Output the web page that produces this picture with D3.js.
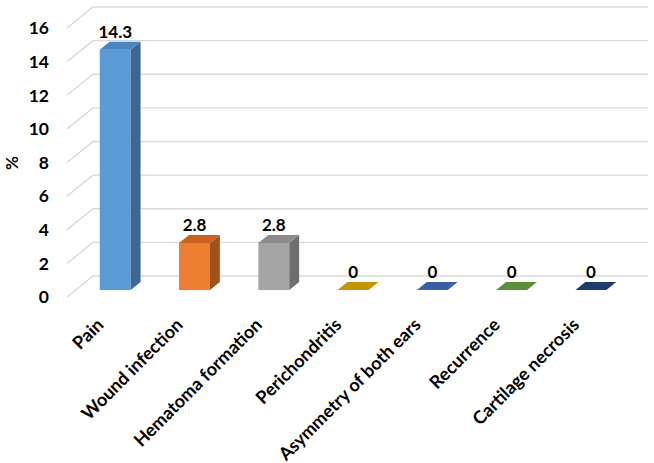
<!DOCTYPE html>
<html>
<head>
<meta charset="utf-8">
<script src="https://cdn.jsdelivr.net/npm/d3@7"></script>
<style>
  html, body { margin: 0; padding: 0; background: #fff; }
  svg { display: block; }
  text { font-family: Lato, "Open Sans", sans-serif; font-weight: 700; fill: #000; }
</style>
</head>
<body>
<svg id="chart" width="654" height="463"></svg>
<script>
const categories = ["Pain", "Wound infection", "Hematoma formation", "Perichondritis",
                    "Asymmetry of both ears", "Recurrence", "Cartilage necrosis"];
const values = [14.3, 2.8, 2.8, 0, 0, 0, 0];
const valueLabels = ["14.3", "2.8", "2.8", "0", "0", "0", "0"];
const yTicks = [0, 2, 4, 6, 8, 10, 12, 14, 16];
const yTitle = "%";

const frontColors = ["#5B9BD5", "#ED7D31", "#A5A5A5", "#FFC000", "#4472C4", "#70AD47", "#264478"];
const topColors   = ["#4C84BC", "#C9621E", "#8C8C8C", "#C49500", "#3A60A8", "#5A8F37", "#1F3D6A"];
const sideColors  = ["#3E6890", "#A0521C", "#6E6E6E", "#9E7A00", "#2F5090", "#4A7A2E", "#1A3358"];

const svg = d3.select("#chart");
const DX = 26, DY = -21;          // depth vector of the 3D floor
const t1 = 0.33, t2 = 0.71;       // bar depth fractions

const y = d3.scaleLinear().domain([0, 16]).range([297, 28]);
const x = d3.scaleBand().domain(categories).range([67, 622])
  .paddingInner(0.61).paddingOuter(0.305);

// gridlines (back wall + floor-side diagonals)
const grid = svg.append("g");
yTicks.forEach(v => {
  const yf = y(v);
  grid.append("path")
    .attr("d", `M${67},${yf} L${67 + DX},${yf + DY} L${622 + DX},${yf + DY}`)
    .attr("fill", "none").attr("stroke", "#D9D9D9").attr("stroke-width", 1.3);
});

// tick labels
svg.append("g").selectAll("text").data(yTicks).join("text")
  .attr("x", 49).attr("y", d => y(d)).attr("dy", "0.36em")
  .attr("text-anchor", "end").attr("font-size", 17.5)
  .text(d => d);

// y title
svg.append("text")
  .attr("transform", "translate(18,163) rotate(-90)")
  .attr("text-anchor", "middle").attr("font-size", 17)
  .text(yTitle);

// bars
const bars = svg.append("g");
categories.forEach((c, i) => {
  const w = x.bandwidth();
  const fx = x(c) + t1 * DX;
  const fbot = y(0) + t1 * DY;
  const ftop = y(values[i]) + t1 * DY;
  const dx = (t2 - t1) * DX, dy = (t2 - t1) * DY;
  const g = bars.append("g");
  if (values[i] > 0) {
    g.append("rect").attr("x", fx).attr("y", ftop).attr("width", w).attr("height", fbot - ftop)
      .attr("fill", frontColors[i]);
    g.append("path")
      .attr("d", `M${fx + w},${ftop} L${fx + w + dx},${ftop + dy} L${fx + w + dx},${fbot + dy} L${fx + w},${fbot} Z`)
      .attr("fill", sideColors[i]);
  }
  g.append("path")
    .attr("d", `M${fx},${ftop} L${fx + w},${ftop} L${fx + w + dx},${ftop + dy} L${fx + dx},${ftop + dy} Z`)
    .attr("fill", topColors[i]);
  // data label
  svg.append("text")
    .attr("x", fx + w / 2).attr("y", ftop + dy - 4)
    .attr("text-anchor", "middle").attr("font-size", 17)
    .text(valueLabels[i]);
});

// category labels
svg.append("g").selectAll("text").data(categories).join("text")
  .attr("transform", d => `translate(${x(d) + x.bandwidth() / 2 - 2},${326}) rotate(-45)`)
  .attr("text-anchor", "end").attr("font-size", 18)
  .text(d => d);
</script>
</body>
</html>
